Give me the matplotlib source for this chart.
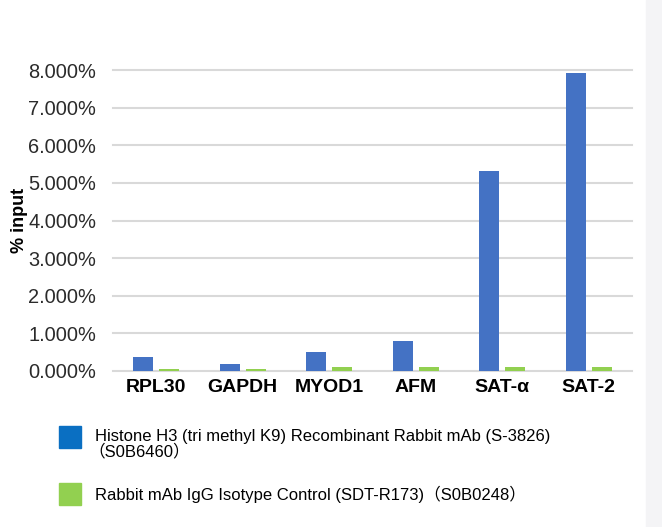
import matplotlib.pyplot as plt
from matplotlib.patches import Rectangle
from matplotlib.ticker import FuncFormatter
import numpy as np

# data (% input)
genes = ['RPL30', 'GAPDH', 'MYOD1', 'AFM', 'SAT-α', 'SAT-2']
h3k9 = [0.37, 0.19, 0.50, 0.80, 5.32, 7.91]
igg = [0.05, 0.05, 0.10, 0.10, 0.10, 0.10]
yticks = [0, 1, 2, 3, 4, 5, 6, 7, 8]
legend_labels = [['Histone H3 (tri methyl K9) Recombinant Rabbit mAb (S-3826)', '（S0B6460）'],
                 ['Rabbit mAb IgG Isotype Control (SDT-R173)（S0B0248）']]

plt.rcParams['font.family'] = ['Liberation Sans', 'Noto Sans CJK SC', 'DejaVu Sans']

fig = plt.figure(figsize=(6.62, 5.27), dpi=100)
ax = fig.add_axes([113 / 662, 1 - 371 / 527, (632 - 113) / 662, (371 - 70) / 527])

x = np.arange(len(genes))
w = 0.23
ax.bar(x - 0.15, h3k9, w, color='#4472C4', zorder=3)
ax.bar(x + 0.15, igg, w, color='#92D050', zorder=3)

ax.set_xlim(-0.5, len(genes) - 0.5)
ax.set_ylim(0, 8)
ax.set_yticks(yticks)
ax.yaxis.set_major_formatter(FuncFormatter(lambda v, p: f'{v:.3f}%'))
ax.grid(axis='y', color='#D9D9D9', linewidth=1.5, zorder=0)
for gl in ax.get_ygridlines():
    gl.set_clip_on(False)
for s in ax.spines.values():
    s.set_visible(False)
ax.tick_params(length=0)
ax.tick_params(axis='y', labelsize=14.4, labelcolor='#2b2b2b', pad=12)
ax.set_xticks(x)
ax.set_xticklabels(genes, fontsize=14, fontweight='bold')
ax.tick_params(axis='x', pad=6)
ax.set_ylabel('% input', fontsize=13, fontweight='bold')
ax.yaxis.set_label_coords(-0.164, 0.5)

# legend drawn below the plot
colors = ['#0A6FC2', '#92D050']
tops = [426, 483]
for c, t, lines in zip(colors, tops, legend_labels):
    fig.add_artist(Rectangle((59 / 662, 1 - (t + 22) / 527), 22 / 662, 22 / 527,
                             transform=fig.transFigure, color=c))
    for i, line in enumerate(lines):
        # fullwidth paren carries left padding, pull that line in a bit
        xpos = 88 if line.startswith('（') else 95
        fig.text(xpos / 662, 1 - (t + 11 + 14 * i) / 527, line, fontsize=12,
                 va='center', ha='left')

# light strip at right edge
fig.add_artist(Rectangle((646 / 662, 0), 16 / 662, 1, transform=fig.transFigure,
                         color='#F4F4F6', zorder=-1))

fig.savefig('out.png', dpi=100)
